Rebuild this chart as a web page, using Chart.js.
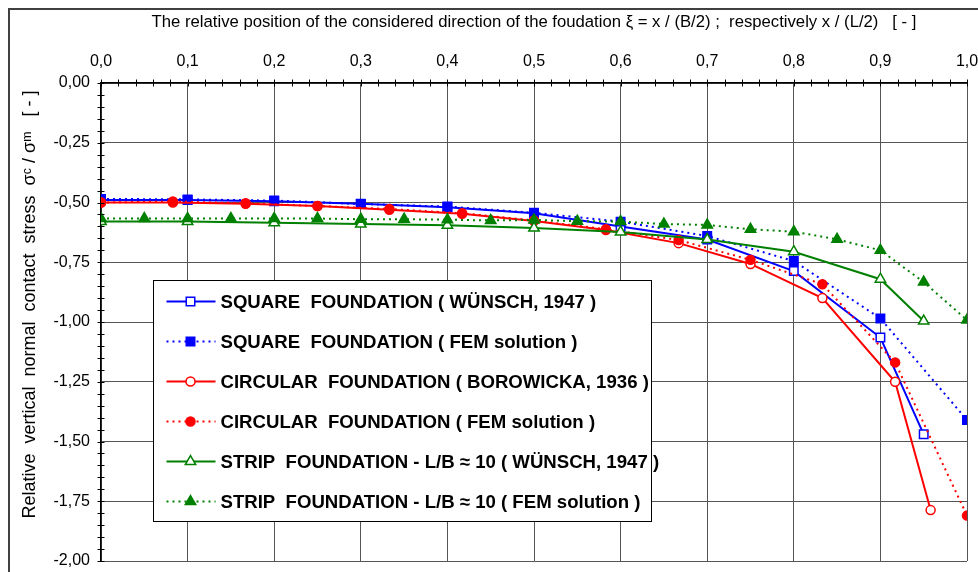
<!DOCTYPE html>
<html>
<head>
<meta charset="utf-8">
<title>Relative vertical normal contact stress</title>
<script src="https://cdn.jsdelivr.net/npm/chart.js"></script>
<style>
  body { margin: 0; background: #fff; }
  canvas { display: block; }
</style>
</head>
<body>
<canvas id="stressChart" width="978" height="572"></canvas>
<script>
// relative position xi = x / (B/2)  and  sigma_c / sigma_m
var xSquareWunsch = [0, 0.1, 0.2, 0.3, 0.4, 0.5, 0.6, 0.7, 0.8, 0.9, 0.95];
var ySquareWunsch = [-0.49, -0.49, -0.495, -0.505, -0.52, -0.545, -0.60, -0.655, -0.787, -1.065, -1.47];

var xSquareFem = [0, 0.1, 0.2, 0.3, 0.4, 0.5, 0.6, 0.7, 0.8, 0.9, 1.0];
var ySquareFem = [-0.485, -0.487, -0.492, -0.506, -0.517, -0.543, -0.58, -0.64, -0.745, -0.985, -1.41];

var xCircBorowicka = [0, 0.083, 0.167, 0.25, 0.333, 0.417, 0.5, 0.583, 0.667, 0.75, 0.833, 0.917, 0.958];
var yCircBorowicka = [-0.50, -0.50, -0.505, -0.515, -0.53, -0.547, -0.577, -0.615, -0.67, -0.757, -0.90, -1.25, -1.787];

var xCircFem = [0, 0.083, 0.167, 0.25, 0.333, 0.417, 0.5, 0.583, 0.667, 0.75, 0.833, 0.917, 1.0];
var yCircFem = [-0.50, -0.496, -0.503, -0.515, -0.527, -0.545, -0.575, -0.612, -0.657, -0.74, -0.842, -1.169, -1.81];

var xStripWunsch = [0, 0.1, 0.2, 0.3, 0.4, 0.5, 0.6, 0.7, 0.8, 0.9, 0.95];
var yStripWunsch = [-0.58, -0.58, -0.585, -0.59, -0.595, -0.607, -0.623, -0.655, -0.706, -0.821, -0.996];

var xStripFem = [0, 0.05, 0.1, 0.15, 0.2, 0.25, 0.3, 0.35, 0.4, 0.45, 0.5, 0.55, 0.6, 0.65, 0.7, 0.75, 0.8, 0.85, 0.9, 0.95, 1.0];
var yStripFem = [-0.567, -0.567, -0.567, -0.567, -0.567, -0.567, -0.57, -0.57, -0.572, -0.575, -0.573, -0.578, -0.58, -0.59, -0.594, -0.612, -0.622, -0.654, -0.70, -0.833, -0.992];

var seriesLabels = [
    'SQUARE  FOUNDATION ( WÜNSCH, 1947 )',
    'SQUARE  FOUNDATION ( FEM solution )',
    'CIRCULAR  FOUNDATION ( BOROWICKA, 1936 )',
    'CIRCULAR  FOUNDATION ( FEM solution )',
    'STRIP  FOUNDATION - L/B ≈ 10 ( WÜNSCH, 1947 )',
    'STRIP  FOUNDATION - L/B ≈ 10 ( FEM solution )'
];

var xAxisTitle = 'The relative position of the considered direction of the foudation ξ = x / (B/2) ;  respectively x / (L/2)   [ - ]';
var yAxisTitle = '       Relative  vertical  normal  contact  stress  σᶜ / σᵐ   [ - ]';

var BLUE = '#0000ff', RED = '#ff0000', GREEN = '#008000';
var FONT = "'Liberation Sans', Arial, sans-serif";

function toPoints(xs, ys) {
    return xs.map(function (x, i) { return { x: x, y: ys[i] }; });
}

// one dataset per series; open markers have white fill
function makeSeries(label, xs, ys, color, style, open, dotted, order) {
    return {
        label: label,
        data: toPoints(xs, ys),
        borderColor: color,
        backgroundColor: open ? '#ffffff' : color,
        borderWidth: 2,
        borderDash: dotted ? [2, 4] : [],
        pointStyle: style,
        pointRadius: style === 'circle' ? 4.5 : 6,
        pointBorderWidth: 1.5,
        pointBackgroundColor: open ? '#ffffff' : color,
        pointBorderColor: color,
        tension: 0,
        fill: false,
        order: order
    };
}

function drawMarker(ctx, style, x, y, r, fill, stroke) {
    ctx.save();
    ctx.setLineDash([]);
    ctx.beginPath();
    if (style === 'rect') {
        var s = r * Math.SQRT1_2;
        ctx.rect(x - s, y - s, 2 * s, 2 * s);
    } else if (style === 'triangle') {
        var a = 0;
        ctx.moveTo(x + Math.sin(a) * r, y - Math.cos(a) * r);
        a += Math.PI * 2 / 3;
        ctx.lineTo(x + Math.sin(a) * r, y - Math.cos(a) * r);
        a += Math.PI * 2 / 3;
        ctx.lineTo(x + Math.sin(a) * r, y - Math.cos(a) * r);
        ctx.closePath();
    } else {
        ctx.arc(x, y, r, 0, Math.PI * 2);
    }
    ctx.fillStyle = fill;
    ctx.fill();
    ctx.lineWidth = 1.5;
    ctx.strokeStyle = stroke;
    ctx.stroke();
    ctx.restore();
}

// small cross ticks along both axes
var minorTicks = {
    id: 'minorTicks',
    afterDatasetsDraw: function (chart) {
        var ctx = chart.ctx, xs = chart.scales.x, ys = chart.scales.y;
        var area = chart.chartArea;
        ctx.save();
        ctx.strokeStyle = '#000';
        ctx.lineWidth = 1;
        ctx.beginPath();
        for (var i = 0; i <= 50; i++) {
            var px = Math.round(xs.getPixelForValue(i * 0.02)) + 0.5;
            ctx.moveTo(px, area.top - 3.5);
            ctx.lineTo(px, area.top + 3.5);
        }
        for (var j = 0; j <= 40; j++) {
            var py = Math.round(ys.getPixelForValue(-j * 0.05)) + 0.5;
            ctx.moveTo(area.left - 3.5, py);
            ctx.lineTo(area.left + 3.5, py);
        }
        ctx.stroke();
        ctx.restore();
    }
};

// legend box inside the plot area, plus the outer frame
var boxLegend = {
    id: 'boxLegend',
    afterDraw: function (chart) {
        var ctx = chart.ctx, xs = chart.scales.x, ys = chart.scales.y;
        var left = Math.round(xs.getPixelForValue(0.06)) + 0.5;
        var right = Math.round(xs.getPixelForValue(0.635)) + 0.5;
        var top = Math.round(ys.getPixelForValue(-0.825)) + 0.5;
        var bottom = Math.round(ys.getPixelForValue(-1.833)) + 0.5;
        ctx.save();
        ctx.fillStyle = '#ffffff';
        ctx.fillRect(left, top, right - left, bottom - top);
        ctx.strokeStyle = '#000';
        ctx.lineWidth = 1;
        ctx.strokeRect(left, top, right - left, bottom - top);

        chart.data.datasets.forEach(function (ds, i) {
            var rowY = top + 21 + i * 40;
            ctx.beginPath();
            ctx.setLineDash(ds.borderDash);
            ctx.strokeStyle = ds.borderColor;
            ctx.lineWidth = ds.borderWidth;
            ctx.moveTo(left + 13, rowY);
            ctx.lineTo(left + 62, rowY);
            ctx.stroke();
            drawMarker(ctx, ds.pointStyle, left + 37, rowY, ds.pointRadius, ds.pointBackgroundColor, ds.pointBorderColor);
            ctx.setLineDash([]);
            ctx.fillStyle = '#000';
            ctx.font = 'bold 18.6px ' + FONT;
            ctx.textBaseline = 'middle';
            ctx.textAlign = 'left';
            ctx.fillText(ds.label, left + 67, rowY + 1);
        });

        ctx.strokeStyle = '#404040';
        ctx.lineWidth = 2;
        ctx.strokeRect(9, 9, chart.width + 20, chart.height + 20);
        ctx.restore();
    }
};

var datasets = [
    makeSeries(seriesLabels[0], xSquareWunsch, ySquareWunsch, BLUE, 'rect', true, false, 6),
    makeSeries(seriesLabels[1], xSquareFem, ySquareFem, BLUE, 'rect', false, true, 5),
    makeSeries(seriesLabels[2], xCircBorowicka, yCircBorowicka, RED, 'circle', true, false, 4),
    makeSeries(seriesLabels[3], xCircFem, yCircFem, RED, 'circle', false, true, 3),
    makeSeries(seriesLabels[4], xStripWunsch, yStripWunsch, GREEN, 'triangle', true, false, 2),
    makeSeries(seriesLabels[5], xStripFem, yStripFem, GREEN, 'triangle', false, true, 1)
];

var canvas = document.getElementById('stressChart');
if (canvas && canvas.getContext) {
    var stressChart = new Chart(canvas, {
        type: 'line',
        data: { datasets: datasets },
        plugins: [minorTicks, boxLegend],
        options: {
            responsive: false,
            animation: false,
            devicePixelRatio: 1,
            layout: { padding: { left: 0, top: 0, right: 11, bottom: 11 } },
            plugins: {
                legend: { display: false },
                tooltip: { enabled: false }
            },
            scales: {
                x: {
                    type: 'linear',
                    position: 'top',
                    min: 0,
                    max: 1,
                    afterFit: function (s) {
                        s.height = 83;
                        s.paddingLeft = 0;
                        s.paddingRight = 0;
                    },
                    border: { display: true, color: '#000', width: 1.5 },
                    grid: { color: '#555', lineWidth: 1, drawTicks: false },
                    ticks: {
                        stepSize: 0.1,
                        padding: 12,
                        color: '#000',
                        font: { family: FONT, size: 16 },
                        callback: function (v) { return v.toFixed(1).replace('.', ','); }
                    },
                    title: {
                        display: true,
                        text: xAxisTitle,
                        color: '#000',
                        font: { family: FONT, size: 16.7 },
                        padding: { top: 12, bottom: 0 }
                    }
                },
                y: {
                    type: 'linear',
                    min: -2,
                    max: 0,
                    afterFit: function (s) {
                        s.width = 101;
                        s.paddingTop = 0;
                        s.paddingBottom = 0;
                    },
                    border: { display: true, color: '#000', width: 1.5 },
                    grid: { color: '#555', lineWidth: 1, drawTicks: false },
                    ticks: {
                        stepSize: 0.25,
                        padding: 11,
                        color: '#000',
                        font: { family: FONT, size: 16 },
                        callback: function (v) { return v.toFixed(2).replace('.', ','); }
                    },
                    title: {
                        display: true,
                        text: yAxisTitle,
                        color: '#000',
                        font: { family: FONT, size: 18 },
                        padding: { top: 19, bottom: 0 }
                    }
                }
            }
        }
    });
}
</script>
</body>
</html>
